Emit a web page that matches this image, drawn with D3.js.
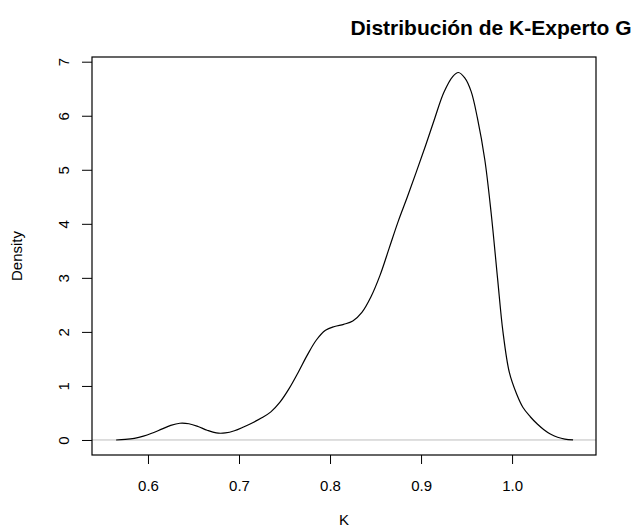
<!DOCTYPE html>
<html><head><meta charset="utf-8">
<script src="https://cdn.jsdelivr.net/npm/d3@7"></script>
<style>body{margin:0;background:#fff}text{font-family:"Liberation Sans",Arial,sans-serif}</style>
</head><body>
<script>
const kValues = [0.565,0.575,0.585,0.595,0.605,0.615,0.625,0.635,0.645,0.655,0.665,0.675,0.685,0.695,0.705,0.715,0.725,0.735,0.745,0.755,0.765,0.775,0.785,0.795,0.805,0.815,0.825,0.835,0.845,0.855,0.865,0.875,0.885,0.895,0.905,0.915,0.925,0.935,0.941,0.948,0.955,0.962,0.970,0.977,0.984,0.990,0.997,1.005,1.012,1.020,1.028,1.035,1.042,1.050,1.058,1.067];
const densityValues = [0.0,0.01,0.03,0.07,0.13,0.20,0.27,0.31,0.30,0.25,0.18,0.13,0.13,0.17,0.24,0.32,0.41,0.52,0.70,0.95,1.25,1.57,1.85,2.03,2.10,2.14,2.20,2.36,2.65,3.05,3.55,4.05,4.50,4.97,5.45,5.95,6.43,6.73,6.80,6.70,6.45,5.95,5.19,4.2,3.0,2.0,1.25,0.85,0.60,0.43,0.29,0.19,0.11,0.05,0.015,0.002];
const xTicks = [0.6,0.7,0.8,0.9,1.0];
const xTickLabels = ["0.6","0.7","0.8","0.9","1.0"];
const yTicks = [0,1,2,3,4,5,6,7];
const title = "Distribución de K-Experto G";
const xTitle = "K";
const yTitle = "Density";

const W = 644, H = 530;
const box = {l:92, r:596, t:57, b:455};
const svg = d3.select("body").append("svg").attr("width",W).attr("height",H);

const x = d3.scaleLinear().domain([0.5385,1.0922]).range([box.l,box.r]);
const y = d3.scaleLinear().domain([-0.278,7.087]).range([box.b,box.t]);

svg.append("line").attr("x1",box.l).attr("x2",box.r).attr("y1",y(0)).attr("y2",y(0))
  .attr("stroke","#bebebe").attr("stroke-width",1);

const data = kValues.map((k,i)=>({k, d:densityValues[i]}));
svg.append("path").datum(data)
  .attr("fill","none").attr("stroke","#000").attr("stroke-width",1.2)
  .attr("d", d3.line().x(d=>x(d.k)).y(d=>y(d.d)).curve(d3.curveCatmullRom));

svg.append("rect").attr("x",box.l).attr("y",box.t).attr("width",box.r-box.l).attr("height",box.b-box.t)
  .attr("fill","none").attr("stroke","#000").attr("stroke-width",1.2);

const xAxis = svg.append("g").attr("transform",`translate(0,${box.b})`)
  .call(d3.axisBottom(x).tickValues(xTicks).tickFormat((d,i)=>xTickLabels[i]).tickSize(9).tickPadding(16));
xAxis.select(".domain").remove();
xAxis.selectAll("text").attr("font-size",15).attr("font-family","Liberation Sans, Arial, sans-serif").attr("fill","#000");
xAxis.selectAll("line").attr("stroke","#000");

const yAxis = svg.append("g").attr("transform",`translate(${box.l},0)`)
  .call(d3.axisLeft(y).tickValues(yTicks).tickSize(10).tickFormat(d3.format("d")));
yAxis.select(".domain").remove();
yAxis.selectAll("line").attr("stroke","#000");
yAxis.selectAll("text").remove();
yAxis.selectAll(".tick").append("text")
  .attr("transform","translate(-28,0) rotate(-90)")
  .attr("text-anchor","middle").attr("dy","0.35em")
  .attr("font-size",15).attr("fill","#000").text(d=>d);

svg.append("text").attr("x",491).attr("y",35).attr("text-anchor","middle")
  .attr("font-size",21).attr("font-weight","bold").text(title);
svg.append("text").attr("x",344).attr("y",525).attr("text-anchor","middle")
  .attr("font-size",15).text(xTitle);
svg.append("text").attr("transform","translate(22,256) rotate(-90)").attr("text-anchor","middle")
  .attr("font-size",15).text(yTitle);
</script>
</body></html>
